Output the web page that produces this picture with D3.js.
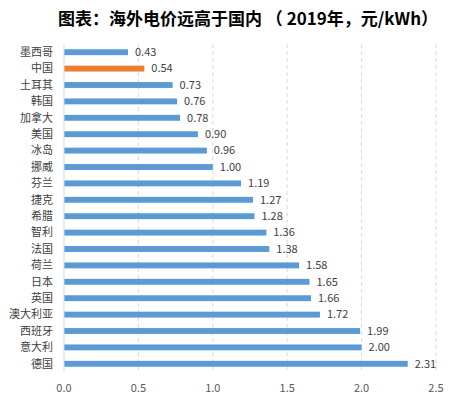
<!DOCTYPE html>
<html>
<head>
<meta charset="utf-8">
<script src="https://cdn.jsdelivr.net/npm/d3@7"></script>
<style>
  body { margin: 0; background: #fff; }
  text { font-family: "Noto Sans CJK SC", "Noto Sans", sans-serif; }
</style>
</head>
<body>
<svg id="chart" width="456" height="396"></svg>
<script>
const countries = ['墨西哥', '中国', '土耳其', '韩国', '加拿大', '美国', '冰岛', '挪威', '芬兰', '捷克',
  '希腊', '智利', '法国', '荷兰', '日本', '英国', '澳大利亚', '西班牙', '意大利', '德国'];
const prices = [0.43, 0.54, 0.73, 0.76, 0.78, 0.90, 0.96, 1.00, 1.19, 1.27,
  1.28, 1.36, 1.38, 1.58, 1.65, 1.66, 1.72, 1.99, 2.00, 2.31];
const ticks = [0, 0.5, 1.0, 1.5, 2.0, 2.5];
const highlight = '中国';

const svg = d3.select('#chart');

// title
svg.append('text')
  .attr('x', 248).attr('y', 25)
  .attr('text-anchor', 'middle')
  .attr('font-size', 17).attr('font-weight', 'bold')
  .attr('fill', '#000')
  .text('图表：海外电价远高于国内 （ 2019年，元/kWh）');

const x = d3.scaleLinear().domain([0, 2.5]).range([64, 436]);
const y = d3.scaleBand().domain(countries).range([44, 372]).paddingInner(0.64).paddingOuter(0.32);

// grid
svg.append('g')
  .selectAll('line')
  .data(ticks.slice(1))
  .join('line')
  .attr('x1', d => x(d)).attr('x2', d => x(d))
  .attr('y1', 44).attr('y2', 372)
  .attr('stroke', '#d9d9d9')
  .attr('stroke-dasharray', '4,3');

// x tick labels
svg.append('g')
  .selectAll('text')
  .data(ticks)
  .join('text')
  .attr('x', d => x(d)).attr('y', 392)
  .attr('text-anchor', 'middle')
  .attr('font-size', 11)
  .attr('fill', '#595959')
  .text(d => d.toFixed(1));

// bars
svg.append('g')
  .selectAll('rect')
  .data(countries)
  .join('rect')
  .attr('x', x(0))
  .attr('y', d => y(d))
  .attr('width', (d, i) => x(prices[i]) - x(0))
  .attr('height', y.bandwidth())
  .attr('fill', d => d === highlight ? '#ed7d31' : '#5b9bd5');

// y axis line
svg.append('line')
  .attr('x1', x(0)).attr('x2', x(0))
  .attr('y1', 44).attr('y2', 372)
  .attr('stroke', '#d9d9d9');

// category labels
svg.append('g')
  .selectAll('text')
  .data(countries)
  .join('text')
  .attr('x', 53)
  .attr('y', d => y(d) + y.bandwidth() / 2)
  .attr('dy', '0.35em')
  .attr('text-anchor', 'end')
  .attr('font-size', 11)
  .attr('fill', '#404040')
  .text(d => d);

// value labels
svg.append('g')
  .selectAll('text')
  .data(countries)
  .join('text')
  .attr('x', (d, i) => x(prices[i]) + 7)
  .attr('y', d => y(d) + y.bandwidth() / 2)
  .attr('dy', '0.35em')
  .attr('font-size', 11)
  .attr('fill', '#404040')
  .text((d, i) => prices[i].toFixed(2));
</script>
</body>
</html>
